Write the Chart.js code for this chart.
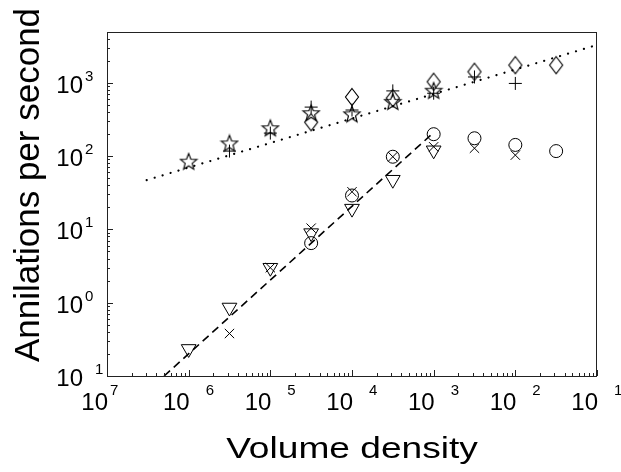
<!DOCTYPE html>
<html>
<head>
<meta charset="utf-8">
<script src="https://cdn.jsdelivr.net/npm/chart.js@4.4.1/dist/chart.umd.min.js"></script>
<style>
  body { margin: 0; background: #fff; }
  #chart { display: block; }
</style>
</head>
<body>
<canvas id="chart" width="621" height="472"></canvas>
<script>
// volume densities where the runs were measured
var densities = [1e-6, 3.16e-6, 1e-5, 3.16e-5, 1e-4, 3.16e-4, 1e-3, 3.16e-3, 1e-2, 3.16e-2];

// annihilations per second, one array per marker
var stars     = [84, 149, 240, 385, 372, 550, 780, null, null, null];
var pluses    = [null, 117, 206, 466, 425, 775, 720, 1200, 980, null];
var diamonds  = [null, null, null, 290, 640, 617, 1035, 1415, 1740, 1740];
var circles   = [null, null, null, 6.5, 29, 98, 199, 175, 142, 117];
var crosses   = [null, 0.38, 3.0, 10.4, 32.6, 98, 134, 128, 103, null];
var triangles = [0.234, 0.86, 3.0, 8.9, 19.2, 47.6, 120, null, null, null];

// fitted lines (end points)
var dottedX = [3.06e-7, 1e-1];
var dottedY = [47, 3280];
var dashedX = [5.0e-7, 9.3e-4];
var dashedY = [0.1, 195];

// axis ticks
var xTicks   = [1e-7, 1e-6, 1e-5, 1e-4, 1e-3, 1e-2, 1e-1];
var xTickExp = ['7', '6', '5', '4', '3', '2', '1'];
var yTicks   = [1e-1, 1, 10, 100, 1000];
var yTickExp = ['1', '0', '1', '2', '3'];

var xTitle = 'Volume density';
var yTitle = 'Annilations per second';

function pts(xs, ys) {
	var out = [];
	for (var i in xs) {
		if (ys[i] !== null) out.push({x: xs[i], y: ys[i]});
	}
	return out;
}

function starImage() {
	var c = document.createElement('canvas');
	c.width = 20; c.height = 20;
	var g = c.getContext('2d');
	g.strokeStyle = '#000';
	g.lineWidth = 1.15;
	g.beginPath();
	for (var i = 0; i < 10; i++) {
		var r = i % 2 ? 3.7 : 8.6;
		var a = -Math.PI / 2 + i * Math.PI / 5;
		var px = 10 + r * Math.cos(a), py = 10.5 + r * Math.sin(a);
		if (i == 0) g.moveTo(px, py); else g.lineTo(px, py);
	}
	g.closePath();
	g.stroke();
	return c;
}

function diamondImage() {
	var c = document.createElement('canvas');
	c.width = 16; c.height = 20;
	var g = c.getContext('2d');
	g.strokeStyle = '#000';
	g.lineWidth = 1.15;
	g.beginPath();
	g.moveTo(8, 1.5);
	g.lineTo(14.5, 10);
	g.lineTo(8, 18.5);
	g.lineTo(1.5, 10);
	g.closePath();
	g.stroke();
	return c;
}

var decor = {
	id: 'decor',
	afterDraw: function(chart) {
		var ctx = chart.ctx;
		var a = chart.chartArea;
		var xs = chart.scales.x, ys = chart.scales.y;
		ctx.save();

		// frame
		ctx.strokeStyle = '#222';
		ctx.lineWidth = 1;
		ctx.strokeRect(a.left + 0.5, a.top + 0.5, a.right - a.left - 1, a.bottom - a.top);

		// inward ticks, major and minor
		ctx.beginPath();
		for (var d = -7; d <= -1; d++) {
			for (var k = 1; k <= 9; k++) {
				var v = k * Math.pow(10, d);
				if (v > xs.max * 1.0001) break;
				var px = Math.round(xs.getPixelForValue(v)) + 0.5;
				var len = k == 1 ? 6 : 3;
				ctx.moveTo(px, a.bottom);
				ctx.lineTo(px, a.bottom - len);
			}
		}
		for (var d = -1; d <= 3; d++) {
			for (var k = 1; k <= 9; k++) {
				var v = k * Math.pow(10, d);
				if (v > ys.max) break;
				var py = Math.round(ys.getPixelForValue(v)) + 0.5;
				var len = k == 1 ? 6 : 3;
				ctx.moveTo(a.left, py);
				ctx.lineTo(a.left + len, py);
			}
		}
		ctx.stroke();

		// tick labels
		ctx.fillStyle = '#000';
		for (var i in xTicks) {
			var px = xs.getPixelForValue(xTicks[i]);
			ctx.font = '24px "Liberation Sans", Arial, sans-serif';
			ctx.textAlign = 'right';
			ctx.textBaseline = 'alphabetic';
			ctx.fillText('10', px + 1, 410);
			ctx.font = '15px "Liberation Sans", Arial, sans-serif';
			ctx.textAlign = 'left';
			ctx.fillText(xTickExp[i], px + (i == 0 ? 3 : 17), 395);
		}
		for (var i in yTicks) {
			var py = ys.getPixelForValue(yTicks[i]);
			ctx.font = '24px "Liberation Sans", Arial, sans-serif';
			ctx.textAlign = 'right';
			ctx.textBaseline = 'alphabetic';
			ctx.fillText('10', 83, py + 10);
			ctx.font = '15px "Liberation Sans", Arial, sans-serif';
			ctx.textAlign = 'left';
			ctx.fillText(yTickExp[i], yTicks[i] < 1 ? 95 : 85, py - 2);
		}

		// axis titles
		ctx.save();
		ctx.translate(352, 458);
		ctx.scale(1.28, 1);
		ctx.font = '29px "Liberation Sans", Arial, sans-serif';
		ctx.textAlign = 'center';
		ctx.fillText(xTitle, 0, 0);
		ctx.restore();

		ctx.save();
		ctx.translate(39, 185);
		ctx.rotate(-Math.PI / 2);
		ctx.font = '35px "Liberation Sans", Arial, sans-serif';
		ctx.textAlign = 'center';
		ctx.fillText(yTitle, 0, 0);
		ctx.restore();

		ctx.restore();
	}
};

function markers(data, style, radius, rotation) {
	return {
		data: data,
		pointStyle: style,
		pointRadius: radius,
		pointRotation: rotation || 0,
		pointBorderColor: '#000',
		pointBackgroundColor: 'rgba(0,0,0,0)',
		pointBorderWidth: 1,
		showLine: false
	};
}

var ctx = document.getElementById('chart');

var chart = new Chart(ctx, {
	type: 'scatter',
	data: {
		datasets: [
			{
				data: pts(dottedX, dottedY),
				showLine: true,
				borderColor: '#000',
				borderWidth: 2.2,
				borderDash: [0.1, 8.2],
				borderCapStyle: 'round',
				pointRadius: 0
			},
			{
				data: pts(dashedX, dashedY),
				showLine: true,
				borderColor: '#000',
				borderWidth: 1.6,
				borderDash: [8, 5],
				pointRadius: 0
			},
			markers(pts(densities, stars), starImage(), 8),
			markers(pts(densities, pluses), 'cross', 6.5),
			markers(pts(densities, diamonds), diamondImage(), 8),
			markers(pts(densities, circles), 'circle', 6.5),
			markers(pts(densities, crosses), 'crossRot', 6.6),
			markers(pts(densities, triangles), 'triangle', 8.5, 180)
		]
	},
	options: {
		responsive: false,
		animation: false,
		events: [],
		layout: {
			padding: {left: 107, top: 32, right: 24, bottom: 96}
		},
		plugins: {
			legend: { display: false },
			tooltip: { enabled: false }
		},
		scales: {
			x: { type: 'logarithmic', min: 1e-7, max: 1e-1, display: false },
			y: { type: 'logarithmic', min: 0.1, max: 4930, display: false }
		}
	},
	plugins: [decor]
});
</script>
</body>
</html>
